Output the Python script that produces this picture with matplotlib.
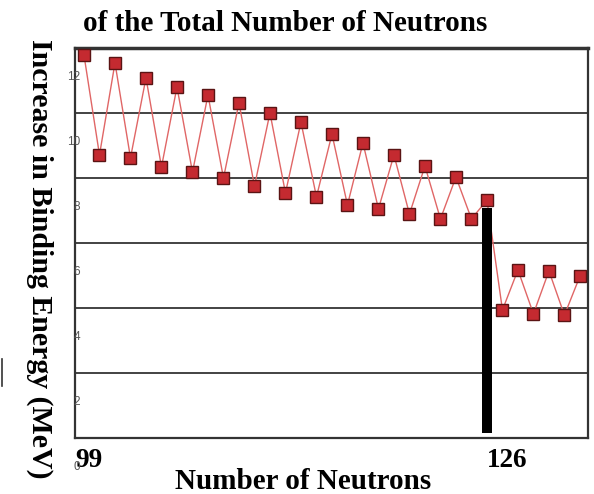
import matplotlib
matplotlib.use("Agg")
import matplotlib.pyplot as plt
import matplotlib.transforms as mtransforms
from matplotlib.lines import Line2D

# ---- data ----
neutrons = list(range(99, 132))
energy_increase = [11.78, 8.71, 11.54, 8.62, 11.08, 8.34, 10.80, 8.18, 10.55, 8.00,
                   10.31, 7.75, 10.00, 7.54, 9.72, 7.42, 9.35, 7.17, 9.08, 7.05,
                   8.71, 6.89, 8.37, 6.74, 8.03, 6.74, 7.32, 3.94, 5.17, 3.82,
                   5.14, 3.78, 4.98]
bar_n = 125
bar_bottom = 0.15
bar_top = 7.08
y_gridlines = [2, 4, 6, 8, 10]
y_tick_values = [12, 10, 8, 6, 4, 2, 0]
y_tick_labels = ["12", "10", "8", "6", "4", "2", "0"]
x_tick_values = [99, 126]
x_tick_labels = ["99", "126"]

serif = ["Liberation Serif", "DejaVu Serif"]

fig = plt.figure(figsize=(5.94, 4.94), dpi=100)
ax = fig.add_axes([75/594, 56/494, 513/594, 390/494])

ax.set_xlim(98.42, 131.52)
ax.set_ylim(0, 12)

for g in y_gridlines:
    ax.axhline(g, color="#222222", lw=1.2, zorder=1)

ax.plot(neutrons, energy_increase, color="#e06666", lw=1.0, zorder=3,
        marker="s", markersize=8.5, markerfacecolor="#c42a30",
        markeredgecolor="#5a1414", markeredgewidth=1.0)

ax.bar([bar_n], [bar_top - bar_bottom], bottom=bar_bottom,
       width=0.65, color="black", zorder=4)

# spines
for s in ["left", "bottom", "right"]:
    ax.spines[s].set_color("#333333")
    ax.spines[s].set_linewidth(1.6)
ax.spines["top"].set_color("#333333")
ax.spines["top"].set_linewidth(2.5)

# y tick labels (shifted below their gridlines as in the original)
ax.set_yticks([])
yoff = mtransforms.ScaledTranslation(5/100, -0.9*32.5/100, fig.dpi_scale_trans)
for v, lab in zip(y_tick_values, y_tick_labels):
    ax.text(98.42, v, lab, transform=ax.transData + yoff, ha="right", va="center",
            fontsize=8.5, color="#555555",
            family=["Liberation Sans Narrow", "Liberation Sans", "DejaVu Sans"],
            clip_on=False)

# x ticks
ax.set_xticks(x_tick_values)
ax.set_xticklabels(x_tick_labels, fontsize=19.5, fontweight="bold", family=serif)
ax.tick_params(axis="x", length=0, pad=7)
xoff = mtransforms.ScaledTranslation(5/100, 0, fig.dpi_scale_trans)
for lbl in ax.get_xticklabels():
    lbl.set_transform(lbl.get_transform() + xoff)

fig.text(0.48, 0.953, "of the Total Number of Neutrons", ha="center", va="center",
         fontsize=21, fontweight="bold", family=serif)
fig.text(0.51, 0.026, "Number of Neutrons", ha="center", va="center",
         fontsize=21, fontweight="bold", family=serif)
fig.text(0.066, 0.477, "Increase in Binding Energy (MeV)", ha="center", va="center",
         rotation=270, fontsize=21.5, fontweight="bold", family=serif)

fig.add_artist(Line2D([1.5/594, 1.5/594], [1-359/494, 1-386/494], color="#333333", lw=1.2))

fig.savefig("out.png", dpi=100)
